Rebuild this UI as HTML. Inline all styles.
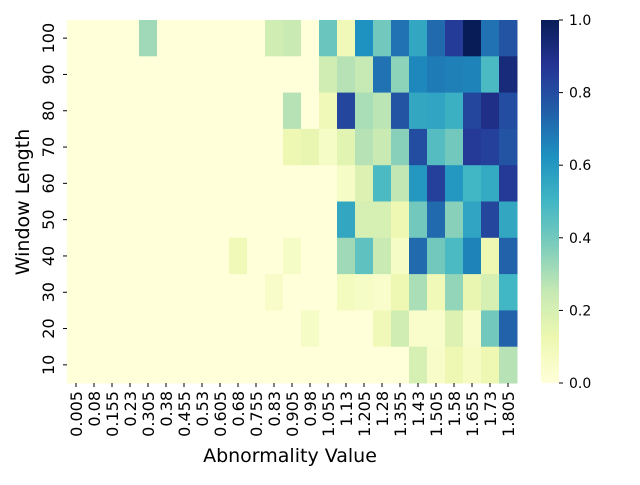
<!DOCTYPE html>
<html><head><meta charset="utf-8"><style>
body{margin:0;background:#fff;}
svg text{font-family:"DejaVu Sans","Liberation Sans",sans-serif;fill:#000;}
</style></head><body>
<svg id="chart" width="640" height="480" xmlns="http://www.w3.org/2000/svg">
<g id="cells"></g>
<g id="xticks"></g>
<g id="yticks"></g>
<defs><linearGradient id="cbg" x1="0" y1="1" x2="0" y2="0"></linearGradient></defs>
<rect x="541" y="20" width="18" height="363" fill="url(#cbg)"/>
<g id="cbticks"></g>
<text x="290" y="462" font-size="19" text-anchor="middle">Abnormality Value</text>
<text transform="translate(29,202) rotate(-90)" font-size="19" text-anchor="middle">Window Length</text>
</svg>
<script>
const xLabels = ["0.005","0.08","0.155","0.23","0.305","0.38","0.455","0.53","0.605","0.68","0.755","0.83","0.905","0.98","1.055","1.13","1.205","1.28","1.355","1.43","1.505","1.58","1.655","1.73","1.805"];
const yLabels = ["100","90","80","70","60","50","40","30","20","10"];
const cbTicks = [0,0.2,0.4,0.6,0.8,1.0];
const row100 = [0,0,0,0,0.32,0,0,0,0,0,0,0.22,0.24,0,0.42,0.1,0.62,0.4,0.7,0.55,0.72,0.85,1.0,0.7,0.78];
const row90  = [0,0,0,0,0,0,0,0,0,0,0,0,0,0,0.22,0.28,0.25,0.7,0.35,0.65,0.68,0.67,0.66,0.48,0.93];
const row80  = [0,0,0,0,0,0,0,0,0,0,0,0,0.28,0,0.1,0.82,0.3,0.27,0.78,0.55,0.56,0.52,0.82,0.9,0.8];
const row70  = [0,0,0,0,0,0,0,0,0,0,0,0,0.12,0.14,0.06,0.16,0.28,0.24,0.36,0.8,0.46,0.4,0.86,0.84,0.78];
const row60  = [0,0,0,0,0,0,0,0,0,0,0,0,0,0,0,0.06,0.18,0.48,0.26,0.6,0.84,0.6,0.5,0.54,0.86];
const row50  = [0,0,0,0,0,0,0,0,0,0,0,0,0,0,0,0.55,0.2,0.2,0.12,0.4,0.72,0.36,0.56,0.82,0.55];
const row40  = [0,0,0,0,0,0,0,0,0,0.1,0,0,0.06,0,0,0.32,0.44,0.24,0.06,0.72,0.4,0.48,0.66,0.12,0.74];
const row30  = [0,0,0,0,0,0,0,0,0,0,0,0.05,0,0,0,0.08,0.06,0.04,0.12,0.3,0.1,0.34,0.14,0.2,0.5];
const row20  = [0,0,0,0,0,0,0,0,0,0,0,0,0,0.06,0,0,0,0.1,0.22,0.04,0.04,0.18,0.05,0.4,0.74];
const row10  = [0,0,0,0,0,0,0,0,0,0,0,0,0,0,0,0,0,0,0,0.2,0.05,0.12,0.07,0.12,0.28];
const rows = [row100,row90,row80,row70,row60,row50,row40,row30,row20,row10];

const stops = ["#ffffd9","#edf8b1","#c7e9b4","#7fcdbb","#41b6c4","#1d91c0","#225ea8","#253494","#081d58"];
function hex(h){return [1,3,5].map(i=>parseInt(h.substr(i,2),16));}
function cmap(v){v=Math.max(0,Math.min(1,v));const p=v*(stops.length-1);const i=Math.min(Math.floor(p),stops.length-2);const t=p-i;const a=hex(stops[i]),b=hex(stops[i+1]);return "rgb("+a.map((c,k)=>Math.round(c+(b[k]-c)*t)).join(",")+")";}
const L=67,R=517,T=20,B=383;
const cw=(R-L)/xLabels.length, ch=(B-T)/yLabels.length;
const xPos=i=>L+i*cw, yPos=j=>T+j*ch;
const NS="http://www.w3.org/2000/svg";
const cells=document.getElementById('cells');
rows.forEach((r,j)=>r.forEach((v,i)=>{
  const e=document.createElementNS(NS,'rect');
  e.setAttribute('x',xPos(i));e.setAttribute('y',yPos(j));
  e.setAttribute('width',cw+0.5);e.setAttribute('height',ch+0.5);
  e.setAttribute('fill',cmap(v));
  
  
  cells.appendChild(e);
}));
const xt=document.getElementById('xticks');
xLabels.forEach((l,i)=>{
  const x=xPos(i)+cw/2;
  const ln=document.createElementNS(NS,'line');
  ln.setAttribute('x1',x);ln.setAttribute('x2',x);ln.setAttribute('y1',B);ln.setAttribute('y2',B+4);ln.setAttribute('stroke','#000');
  
  
  xt.appendChild(ln);
  const t=document.createElementNS(NS,'text');
  t.setAttribute('transform','translate('+(x+6)+','+(B+8)+') rotate(-90)');
  t.setAttribute('text-anchor','end');t.setAttribute('font-size','16');
  t.textContent=l;
  
  
  xt.appendChild(t);
});
const yt=document.getElementById('yticks');
yLabels.forEach((l,j)=>{
  const y=yPos(j)+ch/2;
  const ln=document.createElementNS(NS,'line');
  ln.setAttribute('x1',L-4);ln.setAttribute('x2',L);ln.setAttribute('y1',y);ln.setAttribute('y2',y);ln.setAttribute('stroke','#000');
  
  
  yt.appendChild(ln);
  const t=document.createElementNS(NS,'text');
  t.setAttribute('transform','translate('+(L-13)+','+y+') rotate(-90)');
  t.setAttribute('text-anchor','middle');t.setAttribute('font-size','16');
  t.textContent=l;
  
  
  yt.appendChild(t);
});
const g=document.getElementById('cbg');
stops.forEach((s,i)=>{const st=document.createElementNS(NS,'stop');st.setAttribute('offset',i/(stops.length-1));st.setAttribute('stop-color',s);g.appendChild(st);});
const cb=document.getElementById('cbticks');
cbTicks.forEach(v=>{
  const y=B-v*(B-T);
  const ln=document.createElementNS(NS,'line');
  ln.setAttribute('x1',559);ln.setAttribute('x2',563);ln.setAttribute('y1',y);ln.setAttribute('y2',y);ln.setAttribute('stroke','#000');
  
  
  cb.appendChild(ln);
  const t=document.createElementNS(NS,'text');
  t.setAttribute('x',569);t.setAttribute('y',y+5);t.setAttribute('font-size','14');
  t.textContent=v.toFixed(1);
  
  
  cb.appendChild(t);
});
</script>
</body></html>
